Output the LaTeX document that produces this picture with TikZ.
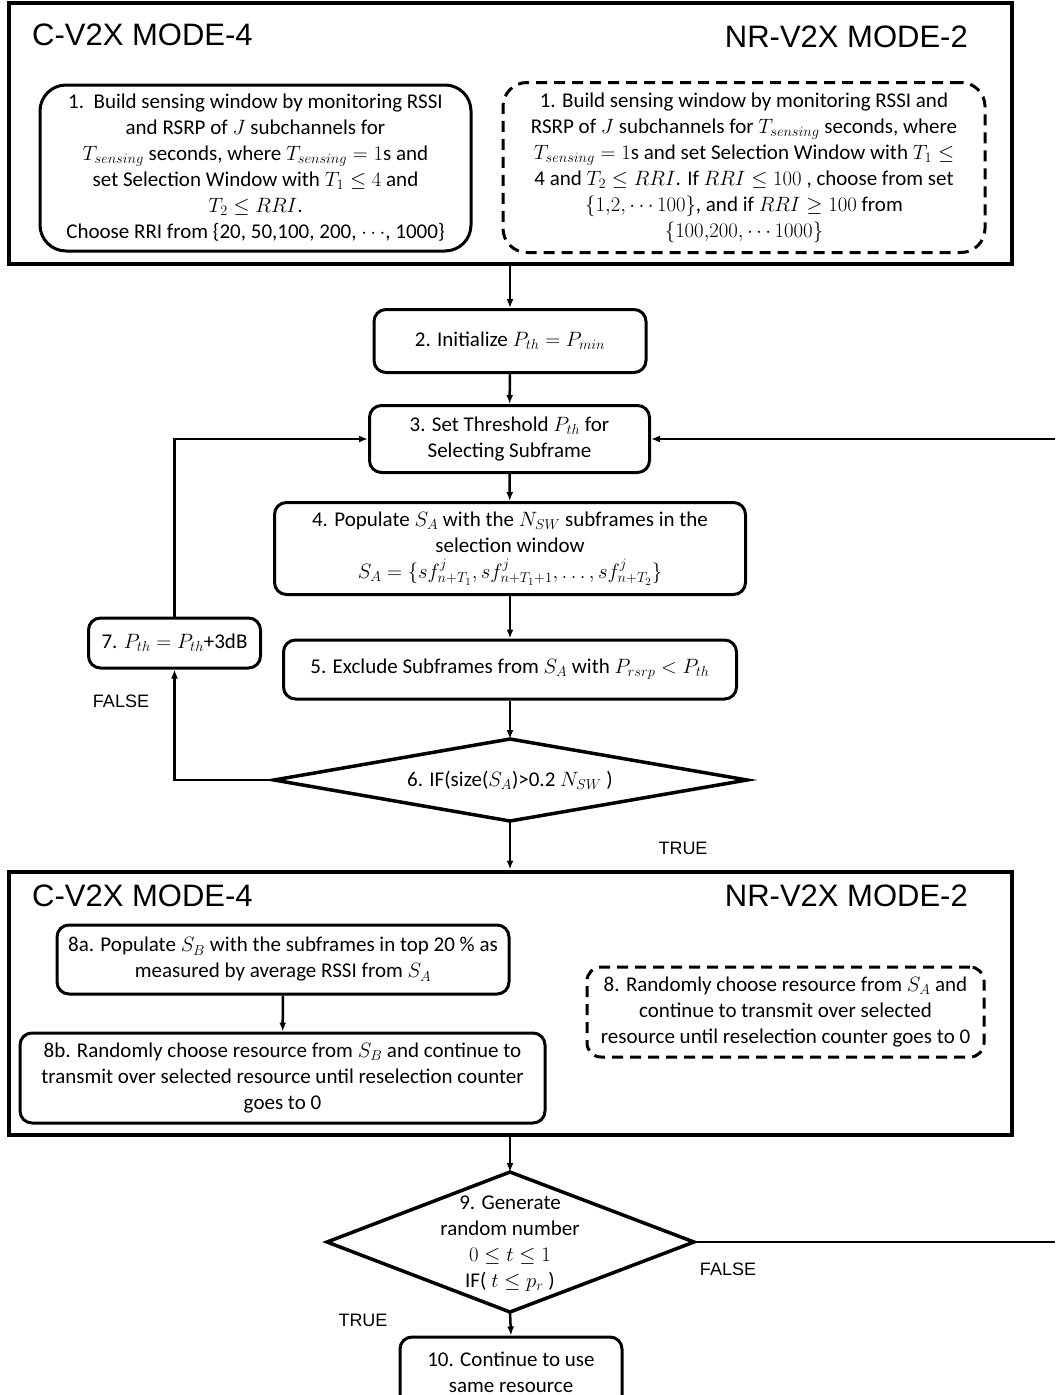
\documentclass[tikz,border=0pt]{standalone}
\usepackage{fontspec}
\setmainfont{Carlito}
\newfontfamily\arialfont{Liberation Sans}
\usetikzlibrary{arrows.meta}
\begin{document}
\begin{tikzpicture}[x=1pt,y=-1pt,
  every node/.style={font=\fontsize{21}{26}\selectfont, align=center, inner sep=0pt},
  outerbox/.style={draw, line width=4pt, rectangle},
  box/.style={draw, line width=3pt, rounded corners=12pt, rectangle},
  bigbox/.style={draw, line width=3pt, rounded corners=26pt, rectangle},
  dbox/.style={draw, line width=3pt, dash pattern=on 11pt off 7pt, rounded corners=24pt, rectangle},
  ttl/.style={font=\arialfont\fontsize{31}{36}\selectfont},
  lbl/.style={font=\arialfont\fontsize{18}{22}\selectfont},
  arr/.style={line width=2.5pt, -{Latex[length=9pt,width=7pt]}},
  ln/.style={line width=2.5pt},
  diam/.style={line width=3.5pt, line join=miter}
]
\path[fill=white] (0,0) rectangle (1055,1395);
\useasboundingbox (0,0) rectangle (1055,1395);

% ---------- top block ----------
\node[outerbox, minimum width=1003pt, minimum height=261pt] (top) at (510.5,133.5) {};
\node[ttl, anchor=west] (t1) at (32,35) {C-V2X MODE-4};
\node[ttl, anchor=east] (t2) at (968,37) {NR-V2X MODE-2};

\node[bigbox, minimum width=431pt, minimum height=166pt] (b1a) at (255.5,168) {%
1.\ \ Build sensing window by monitoring RSSI\\
and RSRP of $J$ subchannels for\\
$T_{sensing}$ seconds, where $T_{sensing}=1$s and\\
set Selection Window with $T_1\le 4$ and\\
$T_2\le RRI$.\\
Choose RRI from \{20, 50,100, 200, $\cdots$, 1000\}};

\node[dbox, minimum width=482pt, minimum height=170pt] (b1b) at (744,167.5) {%
1. Build sensing window by monitoring RSSI and\\
RSRP of $J$ subchannels for $T_{sensing}$ seconds, where\\
$T_{sensing}=1$s and set Selection Window with $T_1\le$\\
4 and $T_2\le RRI$. If $RRI\le 100$ , choose from set\\
$\{1{,}2,\cdots 100\}$, and if $RRI\ge 100$ from\\
$\{100{,}200,\cdots 1000\}$};

% ---------- middle chain ----------
\node[box, minimum width=272pt, minimum height=63pt] (b2) at (510,341) {2. Initialize $P_{th}=P_{min}$};
\node[box, minimum width=280pt, minimum height=67pt] (b3) at (509.5,439) {3. Set Threshold $P_{th}$ for\\Selecting Subframe};
\node[box, minimum width=471pt, minimum height=92pt] (b4) at (510,548.5) {%
4. Populate $S_A$ with the $N_{SW}$ subframes in the\\
selection window\\
$S_A=\{sf^j_{n+T_1}, sf^j_{n+T_1+1},\ldots, sf^j_{n+T_2}\}$};
\node[box, minimum width=453pt, minimum height=59pt] (b5) at (510,669.5) {5. Exclude Subframes from $S_A$ with $P_{rsrp}<P_{th}$};

% diamond 6
\node (d6) at (510,780) {6. IF(size($S_A$)>0.2 $N_{SW}$ )};
\draw[diam] (510,739) coordinate (d6n) -- (747,780) coordinate (d6e) -- (510,821) coordinate (d6s) -- (274,780) coordinate (d6w) -- cycle;

\node[box, minimum width=172pt, minimum height=50pt] (b7) at (174.5,643) {7. $P_{th}=P_{th}$+3dB};
\node[lbl] (f1) at (121,701) {FALSE};
\node[lbl] (tr1) at (683,848) {TRUE};

% ---------- bottom block ----------
\node[outerbox, minimum width=1003pt, minimum height=263pt] (bot) at (510.5,1003) {};
\node[ttl, anchor=west] (t3) at (32,896) {C-V2X MODE-4};
\node[ttl, anchor=east] (t4) at (968,896) {NR-V2X MODE-2};

\node[box, minimum width=452pt, minimum height=69pt] (b8a) at (283,959.5) {%
8a. Populate $S_B$ with the subframes in top 20 \% as\\
measured by average RSSI from $S_A$};
\node[box, minimum width=525pt, minimum height=90pt] (b8b) at (282.5,1078) {%
8b. Randomly choose resource from $S_B$ and continue to\\
transmit over selected resource until reselection counter\\
goes to 0};
\node[dbox, rounded corners=14pt, minimum width=397pt, minimum height=90pt] (b8) at (785.5,1012) {%
8. Randomly choose resource from $S_A$ and\\
continue to transmit over selected\\
resource until reselection counter goes to 0};

% diamond 9
\node (d9) at (510,1244) {9. Generate\\random number\\$0\le t\le 1$\\IF(\ $t\le p_r$ )};
\draw[diam] (510,1172) coordinate (d9n) -- (694,1242) coordinate (d9e) -- (510,1312) coordinate (d9s) -- (327,1242) coordinate (d9w) -- cycle;

\node[lbl] (f2) at (728,1269) {FALSE};
\node[lbl] (tr2) at (363,1320) {TRUE};

\node[box, minimum width=222pt, minimum height=70pt] (b10) at (511,1372) {10. Continue to use\\same resource};

% ---------- connectors ----------
\coordinate (rin) at (1055,439);
\coordinate (rout) at (1055,1242);

\draw[arr] (top.south -| b2) -- (b2.north);
\draw[arr] (b2) -- (b3);
\draw[arr] (b3) -- (b4);
\draw[arr] (b4) -- (b5);
\draw[arr] (b5) -- (d6n);
\draw[arr] (d6w) -| (b7.south);
\draw[arr] (b7.north) |- (b3.west);
\draw[arr] (rin) -- (b3.east);
\draw[arr] (d6s) -- (bot.north -| d6s);
\draw[arr] (b8a) -- (b8b);
\draw[arr] (bot.south -| d9n) -- (d9n);
\draw[ln] (d9e) -- (rout);
\draw[arr] (d9s) -- (b10.north);
\end{tikzpicture}
\end{document}
